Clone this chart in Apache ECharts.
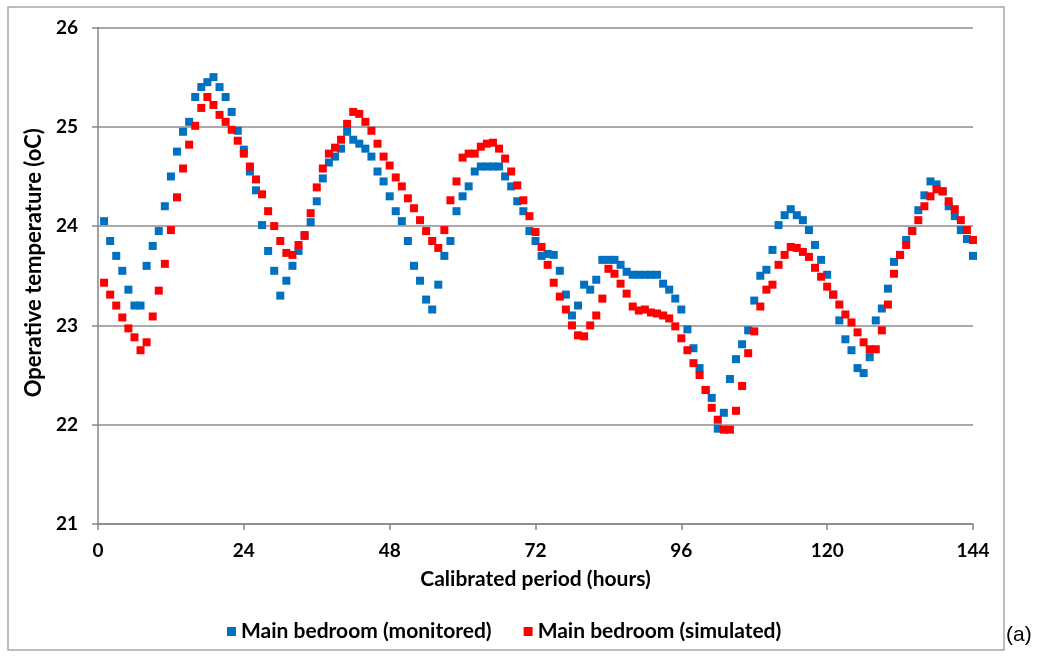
<!DOCTYPE html>
<html>
<head>
<meta charset="utf-8">
<script src="https://cdn.jsdelivr.net/npm/echarts@6/dist/echarts.min.js"></script>
<style>
html,body{margin:0;padding:0;background:#fff;}
#chart{width:1039px;height:656px;}
</style>
</head>
<body>
<div id="chart"></div>
<script>
// Hourly values, hours 1..144
const monitored = [
 24.05,23.85,23.70,23.55,23.36,23.20,23.20,23.60,23.80,23.95,
 24.20,24.50,24.75,24.95,25.05,25.30,25.40,25.45,25.50,25.40,
 25.30,25.15,24.96,24.77,24.55,24.36,24.01,23.75,23.55,23.30,
 23.45,23.60,23.75,23.90,24.04,24.25,24.48,24.64,24.70,24.78,
 24.95,24.87,24.83,24.78,24.70,24.55,24.45,24.30,24.15,24.05,
 23.85,23.60,23.45,23.26,23.16,23.41,23.70,23.85,24.15,24.30,
 24.40,24.55,24.60,24.60,24.60,24.60,24.50,24.40,24.25,24.15,
 23.95,23.85,23.70,23.72,23.71,23.55,23.31,23.10,23.20,23.41,
 23.36,23.46,23.66,23.66,23.66,23.61,23.54,23.51,23.51,23.51,
 23.51,23.51,23.42,23.36,23.27,23.16,22.96,22.77,22.57,22.35,
 22.27,21.96,22.12,22.46,22.66,22.81,22.95,23.25,23.50,23.56,
 23.76,24.01,24.11,24.17,24.11,24.06,23.96,23.81,23.66,23.51,
 23.31,23.05,22.86,22.75,22.57,22.52,22.68,23.05,23.17,23.37,
 23.64,23.71,23.86,23.95,24.16,24.31,24.45,24.42,24.35,24.20,
 24.10,23.96,23.87,23.70
];
const simulated = [
 23.43,23.31,23.20,23.08,22.97,22.88,22.75,22.83,23.09,23.35,
 23.62,23.96,24.29,24.58,24.82,25.01,25.19,25.30,25.22,25.12,
 25.05,24.97,24.86,24.73,24.60,24.47,24.32,24.15,24.00,23.85,
 23.73,23.71,23.81,23.91,24.13,24.39,24.58,24.73,24.79,24.87,
 25.03,25.15,25.13,25.05,24.96,24.83,24.70,24.61,24.49,24.40,
 24.28,24.18,24.06,23.95,23.85,23.78,23.96,24.26,24.45,24.69,
 24.73,24.73,24.80,24.83,24.84,24.78,24.68,24.55,24.41,24.26,
 24.10,23.94,23.79,23.61,23.43,23.29,23.16,23.00,22.90,22.89,
 23.00,23.10,23.27,23.57,23.52,23.42,23.32,23.19,23.15,23.16,
 23.13,23.12,23.10,23.07,22.99,22.87,22.75,22.62,22.50,22.35,
 22.17,22.05,21.95,21.95,22.14,22.39,22.72,22.94,23.19,23.36,
 23.41,23.61,23.71,23.79,23.78,23.74,23.69,23.58,23.49,23.39,
 23.31,23.21,23.11,23.03,22.93,22.83,22.76,22.76,22.95,23.21,
 23.52,23.71,23.81,23.95,24.06,24.20,24.30,24.37,24.35,24.25,
 24.17,24.06,23.96,23.86
];
const seriesNames = ['Main bedroom (monitored)', 'Main bedroom (simulated)'];
const xTicks = [0, 24, 48, 72, 96, 120, 144];
const yTicks = [21, 22, 23, 24, 25, 26];
const xTitle = 'Calibrated period (hours)';
const yTitle = 'Operative temperature (oC)';

const toPoints = arr => arr.map((v, i) => [i + 1, v]);

const FONT = 'Lato';
const chart = echarts.init(document.getElementById('chart'), null, {renderer: 'canvas'});
chart.setOption({
  animation: false,
  backgroundColor: '#ffffff',
  grid: {left: 98, right: 66, top: 27.5, bottom: 132, containLabel: false},
  xAxis: {
    type: 'value', min: xTicks[0], max: xTicks[xTicks.length - 1], interval: 24,
    name: xTitle, nameLocation: 'middle', nameGap: 45,
    nameTextStyle: {fontFamily: FONT, fontWeight: 'bold', fontSize: 21, color: '#000'},
    axisLine: {show: true, lineStyle: {color: '#868686', width: 1.5}},
    axisTick: {show: true, length: 6, lineStyle: {color: '#868686', width: 1.5}},
    axisLabel: {fontFamily: FONT, fontWeight: 'bold', fontSize: 19, color: '#000', margin: 17},
    splitLine: {show: false}
  },
  yAxis: {
    type: 'value', min: yTicks[0], max: yTicks[yTicks.length - 1], interval: 1,
    name: yTitle, nameLocation: 'middle', nameGap: 50,
    nameTextStyle: {fontFamily: FONT, fontWeight: 'bold', fontSize: 22, color: '#000', padding: [0, 0, 0, 26]},
    axisLine: {show: true, lineStyle: {color: '#868686', width: 1.5}},
    axisTick: {show: true, length: 6, lineStyle: {color: '#868686', width: 1.5}},
    axisLabel: {fontFamily: FONT, fontWeight: 'bold', fontSize: 19, color: '#000', margin: 20},
    splitLine: {show: true, lineStyle: {color: '#8c8c8c', width: 1.5}}
  },
  legend: {
    left: 222, top: 616, itemWidth: 9, itemHeight: 9, itemGap: 32,
    icon: 'rect',
    textStyle: {fontFamily: FONT, fontWeight: 'bold', fontSize: 21, color: '#000'},
    data: seriesNames
  },
  graphic: [
    {type: 'rect', shape: {x: 8, y: 7, width: 996, height: 643}, style: {fill: 'none', stroke: '#a8a8a8', lineWidth: 1.5}, silent: true, z: -1},
    {type: 'text', left: 1006, top: 625, style: {text: '(a)', font: '21px "Liberation Sans", Arial, sans-serif', fill: '#000'}}
  ],
  series: [
    {name: seriesNames[0], type: 'scatter', symbol: 'rect', symbolSize: 8,
     itemStyle: {color: '#0070c0', opacity: 1}, data: toPoints(monitored)},
    {name: seriesNames[1], type: 'scatter', symbol: 'rect', symbolSize: 8,
     itemStyle: {color: '#ff0000', opacity: 1}, data: toPoints(simulated)}
  ]
});
</script>
</body>
</html>
